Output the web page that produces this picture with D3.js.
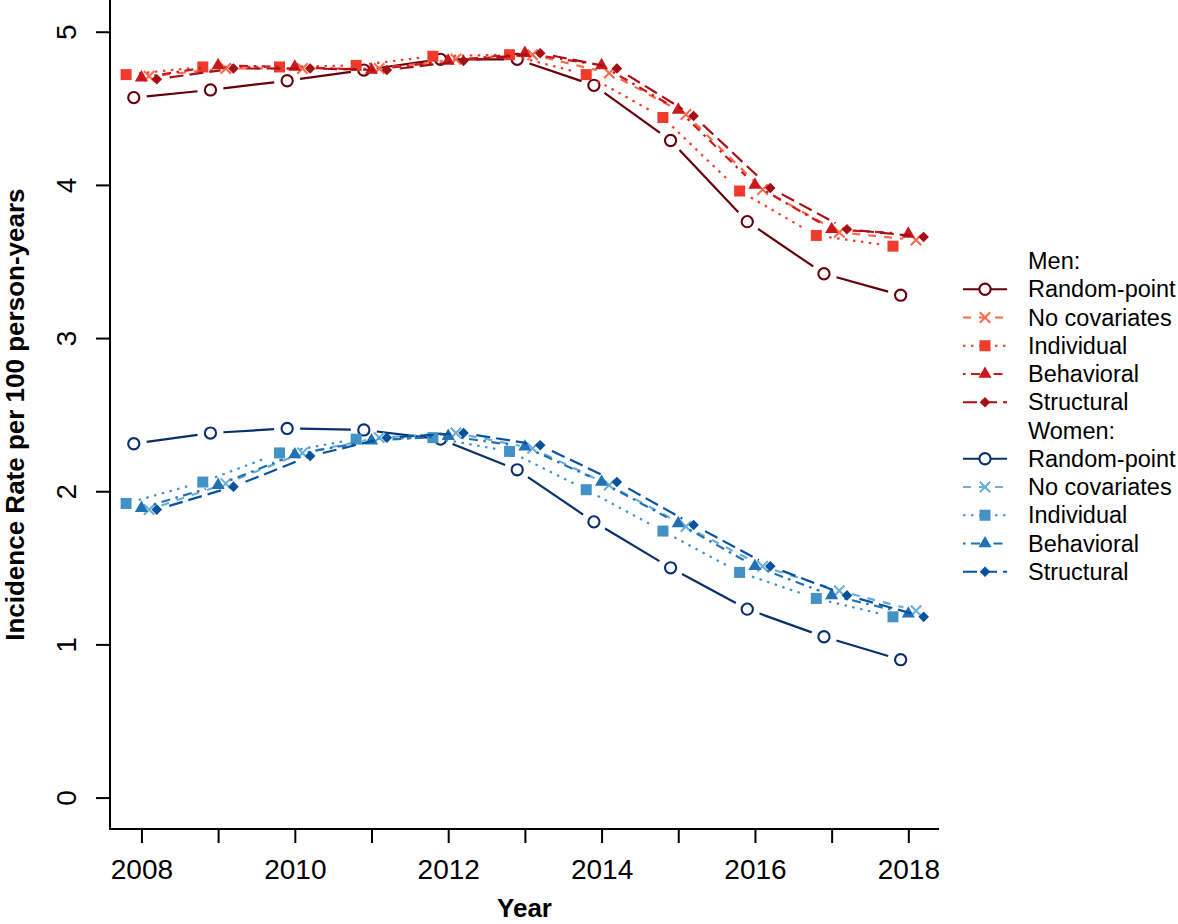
<!DOCTYPE html>
<html>
<head>
<meta charset="utf-8">
<script src="https://cdn.jsdelivr.net/npm/d3@7"></script>
<style>
  html, body { margin: 0; padding: 0; background: #fff; }
  svg { display: block; font-family: "Liberation Sans", Arial, Helvetica, sans-serif; }
</style>
</head>
<body>
<svg id="chart" width="1178" height="924"></svg>
<script>
// ---------------- DATA ----------------
const years = [2008, 2009, 2010, 2011, 2012, 2013, 2014, 2015, 2016, 2017, 2018];
const xTickLabels = ["2008", "2010", "2012", "2014", "2016", "2018"];
const yTicks = [0, 1, 2, 3, 4, 5];

const menRandom  = [4.57, 4.62, 4.68, 4.75, 4.82, 4.82, 4.65, 4.29, 3.76, 3.42, 3.28];
const menNoCov   = [4.71, 4.76, 4.76, 4.76, 4.82, 4.85, 4.73, 4.46, 3.97, 3.69, 3.64];
const menIndiv   = [4.72, 4.77, 4.77, 4.78, 4.84, 4.85, 4.72, 4.44, 3.96, 3.67, 3.60];
const menBehav   = [4.70, 4.78, 4.77, 4.75, 4.81, 4.86, 4.78, 4.49, 4.00, 3.71, 3.68];
const menStruct  = [4.69, 4.76, 4.76, 4.75, 4.81, 4.86, 4.76, 4.45, 3.98, 3.71, 3.66];

const womenRandom = [2.31, 2.38, 2.41, 2.40, 2.34, 2.14, 1.80, 1.50, 1.23, 1.05, 0.90];
const womenNoCov  = [1.88, 2.05, 2.25, 2.35, 2.38, 2.28, 2.04, 1.77, 1.51, 1.35, 1.22];
const womenIndiv  = [1.92, 2.06, 2.25, 2.34, 2.35, 2.26, 2.01, 1.74, 1.47, 1.30, 1.18];
const womenBehav  = [1.89, 2.04, 2.24, 2.33, 2.36, 2.29, 2.06, 1.79, 1.51, 1.32, 1.20];
const womenStruct = [1.88, 2.03, 2.23, 2.35, 2.38, 2.30, 2.06, 1.78, 1.51, 1.32, 1.18];

const modelNames = ["Random-point", "No covariates", "Individual", "Behavioral", "Structural"];

// ---------------- STYLE ----------------
const styles = {
  "Random-point":  { shape: "circle",   dash: null,          offset: -0.1 },
  "No covariates": { shape: "cross",    dash: "8,8",         offset:  0.1 },
  "Individual":    { shape: "square",   dash: "2.5,5.5",     offset: -0.2 },
  "Behavioral":    { shape: "triangle", dash: "2.5,5.5,9,5.5", offset: 0.0 },
  "Structural":    { shape: "diamond",  dash: "14,6",        offset:  0.2 }
};
const menColors   = ["#67000D", "#FB6A4A", "#EF3B2C", "#CB181D", "#A50F15"];
const womenColors = ["#08306B", "#6BAED6", "#4292C6", "#2171B5", "#08519C"];

const groups = [
  { label: "Men:",   values: [menRandom, menNoCov, menIndiv, menBehav, menStruct],   colors: menColors },
  { label: "Women:", values: [womenRandom, womenNoCov, womenIndiv, womenBehav, womenStruct], colors: womenColors }
];

// ---------------- CHART ----------------
const svg = d3.select("#chart");
const font = '"Liberation Sans", Arial, Helvetica, sans-serif';

const x = d3.scaleLinear().domain([2007.59, 2018.40]).range([110, 939]);
const y = d3.scaleLinear().domain([-0.2, 5.2]).range([828.2, 1.1]);

const LW = 2.2;
const GAP = 13;

function drawMarker(g, shape, color, cx, cy) {
  if (shape === "circle") {
    g.append("circle").attr("cx", cx).attr("cy", cy).attr("r", 5.6)
      .attr("fill", "#fff").attr("stroke", color).attr("stroke-width", 2.1);
  } else if (shape === "cross") {
    const s = 5.2;
    g.append("path")
      .attr("d", `M${cx - s},${cy - s}L${cx + s},${cy + s}M${cx - s},${cy + s}L${cx + s},${cy - s}`)
      .attr("stroke", color).attr("stroke-width", 2.1).attr("fill", "none");
  } else if (shape === "square") {
    g.append("path").attr("d", d3.symbol(d3.symbolSquare, 121)())
      .attr("transform", `translate(${cx},${cy})`).attr("fill", color);
  } else if (shape === "triangle") {
    g.append("path").attr("d", d3.symbol(d3.symbolTriangle, 75)())
      .attr("transform", `translate(${cx},${cy})`).attr("fill", color);
  } else if (shape === "diamond") {
    const r = 5.3;
    g.append("path").attr("d", `M${cx},${cy - r}L${cx + r},${cy}L${cx},${cy + r}L${cx - r},${cy}Z`)
      .attr("fill", color);
  }
}

const plot = svg.append("g");

groups.forEach(grp => {
  grp.values.forEach((vals, i) => {
    const name = modelNames[i];
    const st = styles[name];
    const color = grp.colors[i];
    const pts = years.map((yr, k) => [x(yr + st.offset), y(vals[k])]);
    const g = plot.append("g");
    // type = "b": line segments with gaps around the points
    let d = "";
    for (let k = 0; k < pts.length - 1; k++) {
      const [x0, y0] = pts[k], [x1, y1] = pts[k + 1];
      const len = Math.hypot(x1 - x0, y1 - y0);
      if (len <= 2 * GAP) continue;
      const ux = (x1 - x0) / len, uy = (y1 - y0) / len;
      d += `M${x0 + ux * GAP},${y0 + uy * GAP}L${x1 - ux * GAP},${y1 - uy * GAP}`;
    }
    g.append("path").attr("d", d).attr("fill", "none")
      .attr("stroke", color).attr("stroke-width", LW)
      .attr("stroke-dasharray", st.dash);
    pts.forEach(([px, py]) => drawMarker(g, st.shape, color, px, py));
  });
});

// ---------------- AXES ----------------
const xAxis = d3.axisBottom(x)
  .tickValues(years)
  .tickSize(14).tickSizeOuter(0).tickPadding(16)
  .tickFormat(d => xTickLabels.includes(String(d)) ? String(d) : "");
const gx = svg.append("g").attr("transform", "translate(0,829)").call(xAxis);
gx.select(".domain").remove();
gx.selectAll(".tick line").attr("stroke", "#000").attr("stroke-width", 2);
gx.selectAll(".tick text").attr("font-size", 28).attr("font-family", font).attr("fill", "#000");

const yAxis = d3.axisLeft(y).tickValues(yTicks).tickSize(14).tickSizeOuter(0).tickFormat(d3.format("d"));
const gy = svg.append("g").attr("transform", "translate(110,0)").call(yAxis);
gy.select(".domain").remove();
gy.selectAll(".tick line").attr("stroke", "#000").attr("stroke-width", 2);
gy.selectAll(".tick text")
  .attr("font-size", 28).attr("font-family", font).attr("fill", "#000")
  .attr("transform", "rotate(-90)")
  .attr("x", 0).attr("y", -44).attr("dy", "0.35em")
  .attr("text-anchor", "middle");

// L-shaped box
svg.append("path")
  .attr("d", `M${x.range()[0]},${y.range()[1] - 1.1}L${x.range()[0]},829L${x.range()[1]},829`)
  .attr("fill", "none").attr("stroke", "#000").attr("stroke-width", 2);

// Axis titles
svg.append("text")
  .attr("x", (x.range()[0] + x.range()[1]) / 2).attr("y", 917)
  .attr("text-anchor", "middle").attr("font-size", 26).attr("font-weight", "bold")
  .attr("font-family", font).text("Year");

svg.append("text")
  .attr("transform", `translate(24,${(y.range()[0] + y.range()[1]) / 2}) rotate(-90)`)
  .attr("text-anchor", "middle").attr("font-size", 26).attr("font-weight", "bold")
  .attr("font-family", font).text("Incidence Rate per 100 person-years");

// ---------------- LEGEND ----------------
const leg = svg.append("g");
const rowH = 28.25;
let row = 0;
const legY0 = 261;
groups.forEach(grp => {
  const yy = legY0 + row * rowH;
  leg.append("text").attr("x", 1028).attr("y", yy).attr("dy", "0.35em")
    .attr("font-size", 23.5).attr("font-family", font).attr("fill", "#000").text(grp.label);
  row++;
  modelNames.forEach((name, i) => {
    const st = styles[name];
    const color = grp.colors[i];
    const ry = legY0 + row * rowH;
    leg.append("path").attr("d", `M963,${ry}L1007,${ry}`)
      .attr("stroke", color).attr("stroke-width", LW).attr("fill", "none")
      .attr("stroke-dasharray", st.dash);
    drawMarker(leg, st.shape, color, 985, ry);
    leg.append("text").attr("x", 1028).attr("y", ry).attr("dy", "0.35em")
      .attr("font-size", 23.5).attr("font-family", font).attr("fill", "#000").text(name);
    row++;
  });
});
</script>
</body>
</html>
